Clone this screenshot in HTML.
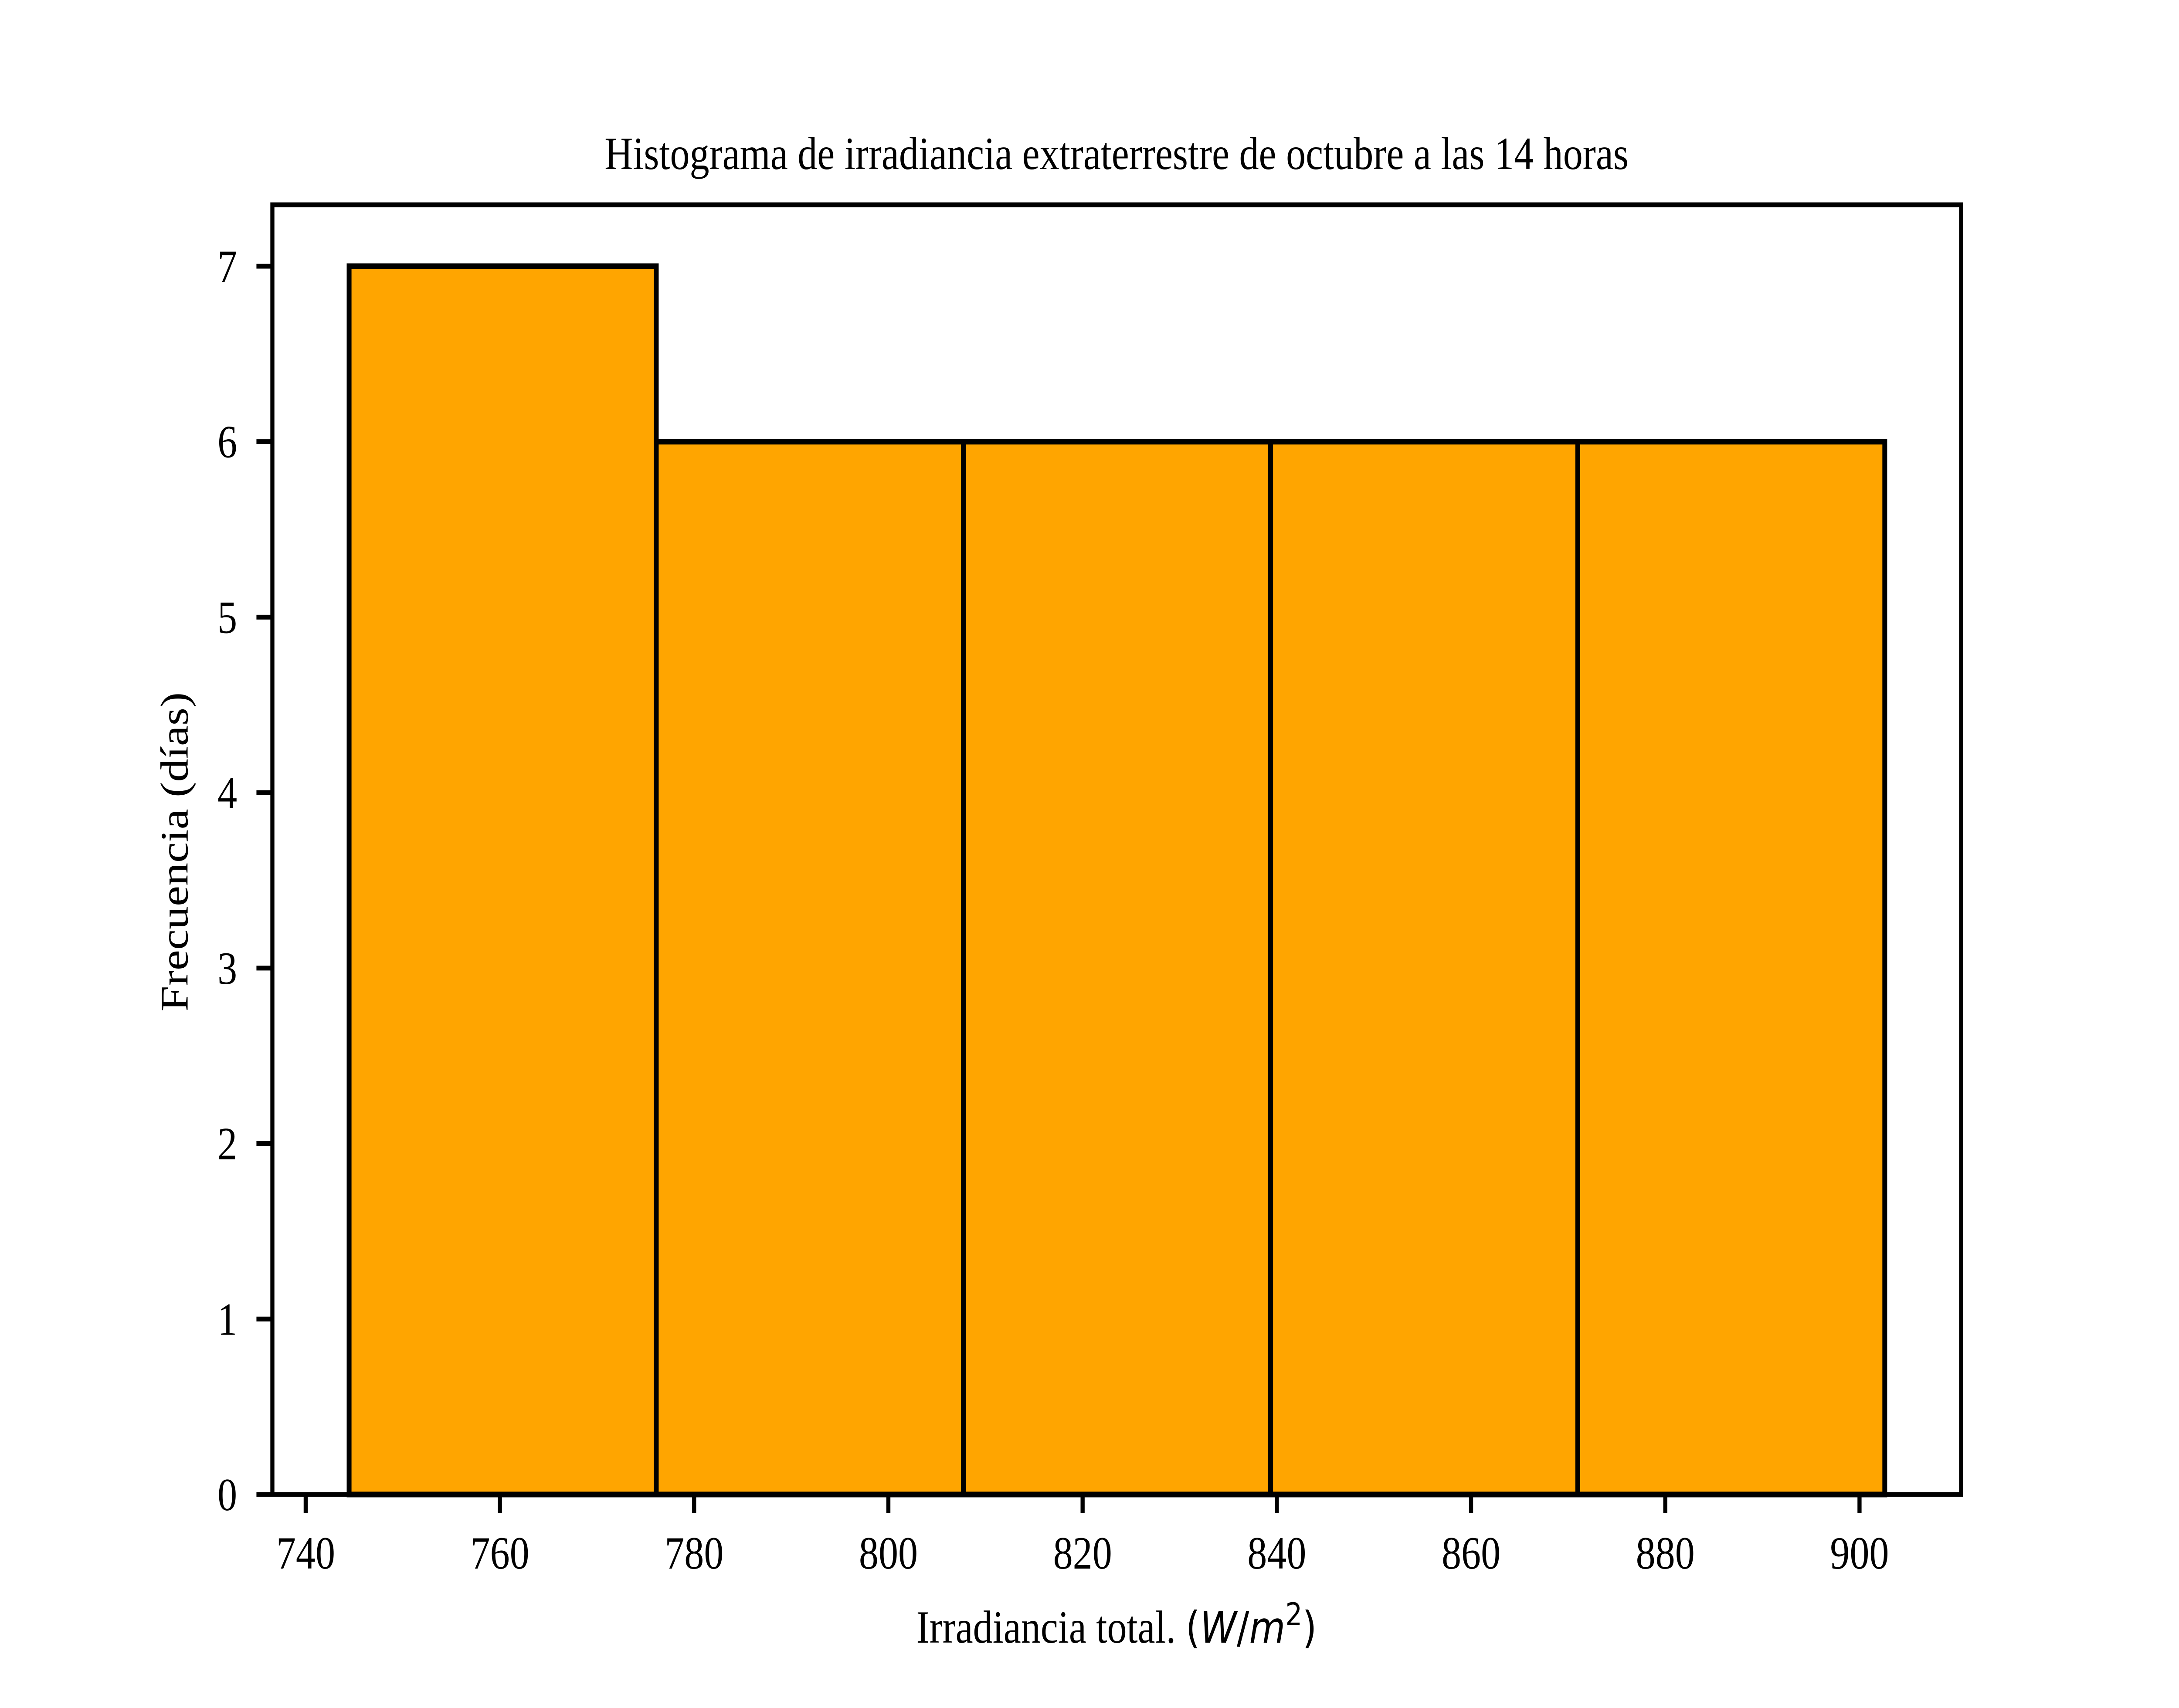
<!DOCTYPE html>
<html><head><meta charset="utf-8"><style>html,body{margin:0;padding:0;background:#fff;overflow:hidden;width:100%;height:100%}svg{display:block;width:100vw;height:100vh}</style></head>
<body>
<svg id="chart" xmlns="http://www.w3.org/2000/svg" viewBox="0 0 5880 3920" preserveAspectRatio="none">
<rect x="0" y="0" width="5880" height="3920" fill="#fff"/>
<g id="bars"></g>
<g id="axes"></g>
<text x="3013" y="388" text-anchor="middle" font-family="Liberation Serif, serif" font-size="106">Histograma de irradiancia extraterrestre de octubre a las 14 horas</text>
<text x="3013" y="3770" text-anchor="middle" font-family="Liberation Serif, serif" font-size="106">Irradiancia total. <tspan font-family="DejaVu Sans, sans-serif" font-size="100">(<tspan font-style="italic">W</tspan>/<tspan font-style="italic">m</tspan><tspan font-size="72" dy="-40">2</tspan><tspan dy="40">)</tspan></tspan></text>
<text x="0" y="0" transform="translate(506,1955) rotate(-90)" text-anchor="middle" font-family="Liberation Serif, serif" font-size="106">Frecuencia (días)</text>
</svg>
<script>
const binEdges = [744.47, 776.1, 807.73, 839.36, 870.99, 902.6];
const counts = [7, 6, 6, 6, 6];
const xTicks = [740, 760, 780, 800, 820, 840, 860, 880, 900];
const yTicks = [0, 1, 2, 3, 4, 5, 6, 7];

const L = 735, R = 5292, T = 470, B = 3430;
const xMin = 736.57, xMax = 910.46, yMin = 0, yMax = 7.35;
const NS = 'http://www.w3.org/2000/svg';
function xs(v){ return L + (v - xMin) / (xMax - xMin) * (R - L); }
function ys(v){ return B - (v - yMin) / (yMax - yMin) * (B - T); }
function mk(tag, attrs){ const e = document.createElementNS(NS, tag); for (const k in attrs) e.setAttribute(k, attrs[k]); return e; }

const bars = document.getElementById('bars');
counts.forEach((c, i) => {
  const x0 = xs(binEdges[i]), x1 = xs(binEdges[i+1]), y = ys(c);
  const r = mk('rect', {x: x0, y: y, width: x1 - x0, height: ys(0) - y, fill: '#ffa500', stroke: '#000', 'stroke-width': 13});
  
  
  bars.appendChild(r);
});

const axes = document.getElementById('axes');
xTicks.forEach(t => {
  const x = xs(t);
  const ln = mk('line', {x1: x, x2: x, y1: B, y2: B + 43, stroke: '#000', 'stroke-width': 11});
  
  
  axes.appendChild(ln);
  const tx = mk('text', {x: x, y: 3600, 'text-anchor': 'middle', 'font-family': 'Liberation Serif, serif', 'font-size': 106});
  tx.textContent = t;
  
  
  axes.appendChild(tx);
});
yTicks.forEach(t => {
  const y = ys(t);
  const ln = mk('line', {x1: L - 43, x2: L, y1: y, y2: y, stroke: '#000', 'stroke-width': 11});
  
  
  axes.appendChild(ln);
  const tx = mk('text', {x: 640, y: y + 36, 'text-anchor': 'end', 'font-family': 'Liberation Serif, serif', 'font-size': 106});
  tx.textContent = t;
  
  
  axes.appendChild(tx);
});
const frame = mk('rect', {x: L, y: T, width: R - L, height: B - T, fill: 'none', stroke: '#000', 'stroke-width': 11});


axes.appendChild(frame);
</script>
</body></html>
